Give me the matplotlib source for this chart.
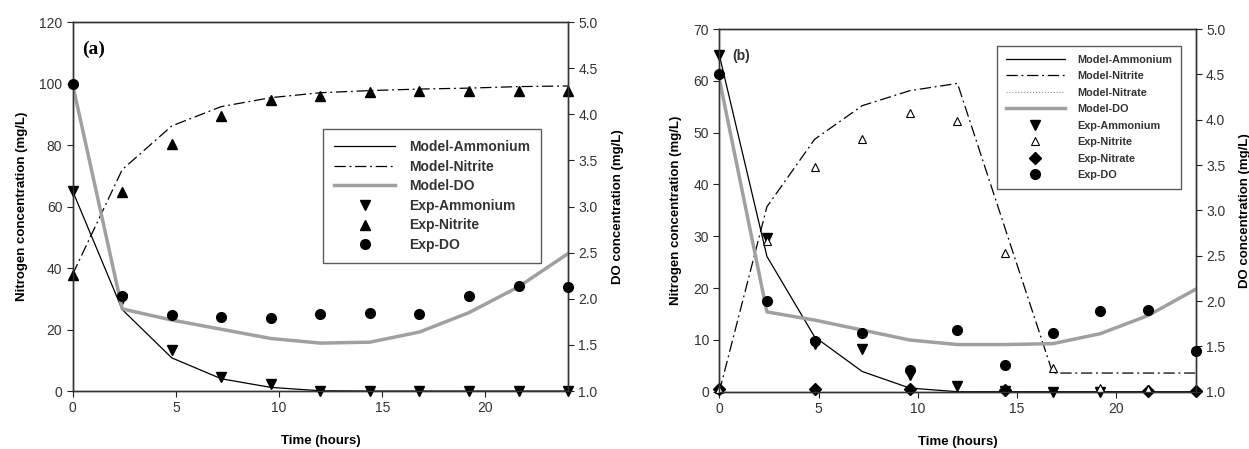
import matplotlib
matplotlib.use("Agg")
import matplotlib.pyplot as plt
from matplotlib.lines import Line2D

plt.rcParams['font.family'] = ['Liberation Sans', 'DejaVu Sans']
NA = float('nan')

# ---------------- data ----------------
time = [0, 2.4, 4.8, 7.2, 9.6, 12, 14.4, 16.8, 19.2, 21.6, 24]

# panel (a)
a_model_nh4 = [65, 26.5, 10.8, 4.0, 1.2, 0.1, 0, 0, 0, 0, 0]
a_model_no2 = [38, 72, 86.2, 92.5, 95.4, 97.0, 97.7, 98.2, 98.5, 99.0, 99.2]
a_model_do = [4.32, 1.89, 1.77, 1.67, 1.57, 1.52, 1.53, 1.64, 1.85, 2.13, 2.49]
a_exp_nh4 = [65, 30, 13.3, 4.7, 2.3, 0, 0, 0, 0, 0, 0]
a_exp_no2 = [37.7, 64.6, 80.4, 89.4, 94.6, 96.0, 97.3, 97.6, 97.6, 97.6, 97.7]
a_exp_do = [4.33, 2.03, 1.82, 1.80, 1.79, 1.84, 1.85, 1.83, 2.03, 2.14, 2.13]

# panel (b)
b_model_nh4 = [65, 26.1, 10.6, 3.9, 0.7, 0, 0, 0, 0, 0, 0]
b_model_no2 = [0, 35.7, 48.7, 55.2, 58.1, 59.5, 31.5, 3.6, 3.6, 3.6, 3.6]
b_model_no3 = [0, 0, 0, 0, 0, 0, 0, 0, 0, 0, 0]
b_model_do = [4.45, 1.88, 1.79, 1.68, 1.57, 1.52, 1.52, 1.53, 1.64, 1.84, 2.13]
b_exp_nh4 = [65, 29.6, 9.3, 8.2, 3.2, 1.1, 0.2, 0, 0, NA, NA]
b_exp_no2 = [0.5, 29.0, 43.4, 48.7, 53.7, 52.3, 26.7, 4.5, 0.8, 0.5, NA]
b_exp_no3 = [0.5, NA, 0.5, NA, 0.5, NA, 0.3, NA, NA, 0.2, 0.2]
b_exp_do = [4.50, 2.00, 1.56, 1.65, 1.24, 1.68, 1.30, 1.65, 1.89, 1.90, 1.45]

x_ticks = [0, 5, 10, 15, 20]
a_left_ticks = [0, 20, 40, 60, 80, 100, 120]
b_left_ticks = [0, 10, 20, 30, 40, 50, 60, 70]
do_ticks = [1.0, 1.5, 2.0, 2.5, 3.0, 3.5, 4.0, 4.5, 5.0]

# ---------------- style ----------------
DASHDOT = (0, (9, 3, 1.5, 3))
GRAY = '#a0a0a0'
TICKFS = 10
LABFS = 9.5

fig = plt.figure(figsize=(12.49, 4.49), dpi=100)


def style_axes(ax, ax2, yticks, ymax):
    ax.set_xlim(0, 24)
    ax.set_ylim(0, ymax)
    ax.set_xticks(x_ticks)
    ax.set_yticks(yticks)
    ax.set_yticklabels([str(t) for t in yticks])
    ax2.set_ylim(1.0, 5.0)
    ax2.set_yticks(do_ticks)
    ax2.set_yticklabels([f"{t:.1f}" for t in do_ticks])
    for a in (ax, ax2):
        a.tick_params(direction='out', length=4, width=0.8, labelsize=TICKFS,
                      colors='#222222', labelcolor='#333333')
        for s in a.spines.values():
            s.set_color('#333333')
            s.set_linewidth(1.0)
    ax.set_xlabel('Time (hours)', fontsize=LABFS, fontweight='bold', labelpad=14)
    ax.set_ylabel('Nitrogen concentration (mg/L)', fontsize=LABFS, fontweight='bold', labelpad=8)
    ax2.set_ylabel('DO concentration (mg/L)', fontsize=LABFS, fontweight='bold', labelpad=10)


# ---------------- panel (a) ----------------
ax = fig.add_axes([0.0582, 0.129, 0.3966, 0.822])
ax2 = ax.twinx()
ax.plot(time, a_model_nh4, color='black', lw=0.9)
ax.plot(time, a_model_no2, color='black', lw=0.9, linestyle=DASHDOT)
ax2.plot(time, a_model_do, color=GRAY, lw=2.5, zorder=2)
ax.plot(time, a_exp_nh4, linestyle='none', marker='v', ms=7, color='black', clip_on=False, zorder=5)
ax.plot(time, a_exp_no2, linestyle='none', marker='^', ms=7, color='black', clip_on=False, zorder=5)
ax2.plot(time, a_exp_do, linestyle='none', marker='o', ms=7, color='black', clip_on=False, zorder=5)
style_axes(ax, ax2, a_left_ticks, 120)
ax.text(0.02, 0.925, '(a)', transform=ax.transAxes, fontsize=14, fontweight='bold',
        family='Liberation Serif', va='center', ha='left')

handles_a = [
    Line2D([], [], color='black', lw=0.9),
    Line2D([], [], color='black', lw=0.9, linestyle=DASHDOT),
    Line2D([], [], color=GRAY, lw=2.5),
    Line2D([], [], linestyle='none', marker='v', ms=7, color='black'),
    Line2D([], [], linestyle='none', marker='^', ms=7, color='black'),
    Line2D([], [], linestyle='none', marker='o', ms=7, color='black'),
]
labels_a = ['Model-Ammonium', 'Model-Nitrite', 'Model-DO', 'Exp-Ammonium', 'Exp-Nitrite', 'Exp-DO']
leg = ax2.legend(handles_a, labels_a, loc='upper left', bbox_to_anchor=(0.505, 0.71),
                 prop={'size': 10, 'weight': 'bold'}, frameon=True, fancybox=False,
                 handlelength=4.4, handletextpad=1.0, labelspacing=0.4, borderpad=0.8,
                 borderaxespad=0)
leg.get_frame().set_edgecolor('#333333')
leg.get_frame().set_linewidth(1.0)
for t in leg.get_texts():
    t.set_color('#333333')

# ---------------- panel (b) ----------------
bx = fig.add_axes([0.5759, 0.1276, 0.3814, 0.8078])
bx2 = bx.twinx()
bx.plot(time, b_model_nh4, color='black', lw=0.9)
bx.plot(time, b_model_no2, color='black', lw=0.9, linestyle=DASHDOT)
bx.plot(time, b_model_no3, color='black', lw=0.8, linestyle=':')
bx2.plot(time, b_model_do, color=GRAY, lw=2.5, zorder=2)
bx.plot(time, b_exp_nh4, linestyle='none', marker='v', ms=7, color='black', clip_on=False, zorder=5)
bx.plot(time, b_exp_no3, linestyle='none', marker='D', ms=6, color='black', clip_on=False, zorder=5)
bx.plot(time, b_exp_no2, linestyle='none', marker='^', ms=6, mfc='white', mec='black', mew=0.8,
        clip_on=False, zorder=6)
bx2.plot(time, b_exp_do, linestyle='none', marker='o', ms=7, color='black', clip_on=False, zorder=5)
style_axes(bx, bx2, b_left_ticks, 70)
bx.text(0.027, 0.925, '(b)', transform=bx.transAxes, fontsize=10, fontweight='bold',
        va='center', ha='left', color='#333333')

handles_b = [
    Line2D([], [], color='black', lw=0.9),
    Line2D([], [], color='black', lw=0.9, linestyle=DASHDOT),
    Line2D([], [], color='#888888', lw=0.8, linestyle=':'),
    Line2D([], [], color=GRAY, lw=2.5),
    Line2D([], [], linestyle='none', marker='v', ms=7, color='black'),
    Line2D([], [], linestyle='none', marker='^', ms=6, mfc='white', mec='black', mew=0.8),
    Line2D([], [], linestyle='none', marker='D', ms=6, color='black'),
    Line2D([], [], linestyle='none', marker='o', ms=7, color='black'),
]
labels_b = ['Model-Ammonium', 'Model-Nitrite', 'Model-Nitrate', 'Model-DO',
            'Exp-Ammonium', 'Exp-Nitrite', 'Exp-Nitrate', 'Exp-DO']
leg2 = bx2.legend(handles_b, labels_b, loc='upper left', bbox_to_anchor=(0.584, 0.953),
                  prop={'size': 7.8, 'weight': 'bold'}, frameon=True, fancybox=False,
                  handlelength=5.4, handletextpad=1.2, labelspacing=0.6, borderpad=0.8,
                  borderaxespad=0)
leg2.get_frame().set_edgecolor('#333333')
leg2.get_frame().set_linewidth(1.0)
for t in leg2.get_texts():
    t.set_color('#333333')

fig.savefig('out.png', dpi=100)
